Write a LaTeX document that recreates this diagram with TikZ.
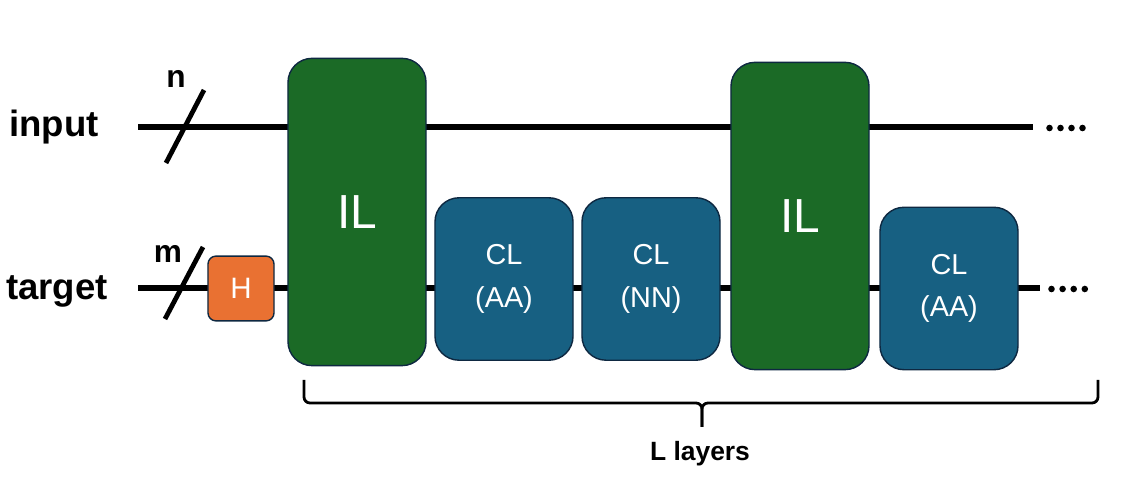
\documentclass[tikz,border=0pt]{standalone}
\usepackage{fontspec}
\setmainfont{Liberation Sans}
\definecolor{ilgreen}{RGB}{27,106,38}
\definecolor{clblue}{RGB}{23,96,130}
\definecolor{horange}{RGB}{233,113,50}
\definecolor{boxline}{RGB}{14,40,65}
\tikzset{
    wire/.style={line width=3.6pt},
    gatebox/.style={draw=boxline, line width=1pt, text=white, align=center},
    ilbox/.style={gatebox, fill=ilgreen, rounded corners=0.6cm, minimum width=3.45cm, minimum height=7.68cm, font=\fontsize{34}{36}\selectfont},
    clbox/.style={gatebox, fill=clblue, rounded corners=0.6cm, minimum width=3.45cm, minimum height=4.06cm, font=\fontsize{20.5}{30}\selectfont},
    hbox/.style={gatebox, fill=horange, rounded corners=0.2cm, minimum width=1.65cm, minimum height=1.62cm, font=\fontsize{21}{24}\selectfont},
    regname/.style={anchor=base, font=\fontsize{26}{30}\selectfont\bfseries},
    layerbrace/.style={line width=2pt, rounded corners=0.15cm}
}
\begin{document}
\begin{tikzpicture}[x=0.025cm, y=-0.025cm]
    \useasboundingbox (0, 0) rectangle (1123, 477);

    % wires
    \coordinate (inA) at (138, 127);
    \coordinate (inB) at (1033, 127);
    \coordinate (tgA) at (138, 288);
    \coordinate (tgB) at (1040, 288);
    \draw[wire] (inA) -- (inB);
    \draw[wire] (tgA) -- (tgB);

    \node[regname] (input) at (54, 137) {input};
    \node[regname] (target) at (57, 300) {target};

    % register widths
    \draw[wire, line width=3.4pt] (166, 163) -- (204, 90);
    \draw[wire, line width=3.4pt] (165, 319) -- (203, 247);
    \node[regname, font=\fontsize{22.5}{26}\selectfont\bfseries] (nlab) at (176, 88) {n};
    \node[regname, font=\fontsize{22.5}{26}\selectfont\bfseries] (mlab) at (168, 263) {m};

    % gates
    \node[hbox] (had) at (241, 288.5) {H};
    \node[ilbox] (il1) at (357, 212) {IL};
    \node[clbox] (cl1) at (504, 279) {CL\\(AA)};
    \node[clbox] (cl2) at (651, 279) {CL\\(NN)};
    \node[ilbox] (il2) at (800, 216) {IL};
    \node[clbox] (cl3) at (949, 288.5) {CL\\(AA)};

    \foreach \i in {0,...,3}
    {\fill (1049.5 + 11*\i, 128) circle (0.082cm);}
    \foreach \i in {0,...,3}
    {\fill (1051.5 + 11.1*\i, 289) circle (0.082cm);}

    % brace
    \coordinate (brL) at (304, 380);
    \coordinate (brR) at (1098, 380);
    \coordinate (brM) at (702, 403);
    \coordinate (brT) at (702, 427);
    \draw[layerbrace] (brL) -- (brL |- brM) -- (brM) -- (brT);
    \draw[layerbrace] (brR) -- (brR |- brM) -- (brM) -- (brT);
    \node[regname, font=\fontsize{18.8}{22}\selectfont\bfseries] (layers) at (700, 460) {L layers};
\end{tikzpicture}
\end{document}
